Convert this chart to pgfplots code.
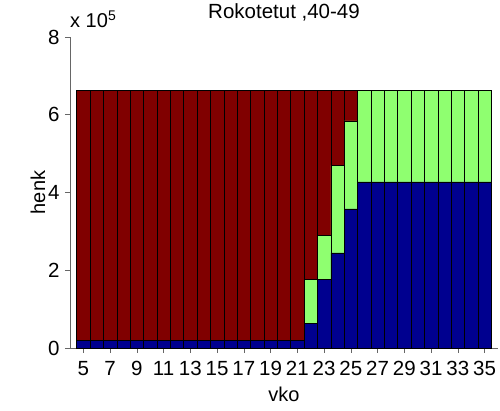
\documentclass[border=0pt]{standalone}
\usepackage{pgfplots}
\pgfplotsset{compat=1.18}
\usepackage{fontspec}
\setmainfont{Liberation Sans}

\definecolor{jetblue}{rgb}{0,0,0.5625}
\definecolor{jetgreen}{rgb}{0.5625,1,0.4375}
\definecolor{jetred}{rgb}{0.5,0,0}

% values in units of 10^5
\pgfplotstableread{
vko  blue  green  red
5    0.20  0.00   6.42
6    0.20  0.00   6.42
7    0.20  0.00   6.42
8    0.20  0.00   6.42
9    0.20  0.00   6.42
10   0.20  0.00   6.42
11   0.20  0.00   6.42
12   0.20  0.00   6.42
13   0.20  0.00   6.42
14   0.20  0.00   6.42
15   0.20  0.00   6.42
16   0.20  0.00   6.42
17   0.20  0.00   6.42
18   0.20  0.00   6.42
19   0.20  0.00   6.42
20   0.20  0.00   6.42
21   0.20  0.00   6.42
22   0.63  1.13   4.86
23   1.77  1.13   3.72
24   2.45  2.25   1.92
25   3.58  2.26   0.78
26   4.27  2.35   0.00
27   4.27  2.35   0.00
28   4.27  2.35   0.00
29   4.27  2.35   0.00
30   4.27  2.35   0.00
31   4.27  2.35   0.00
32   4.27  2.35   0.00
33   4.27  2.35   0.00
34   4.27  2.35   0.00
35   4.27  2.35   0.00
}\rokotetut

\begin{document}
\begin{tikzpicture}
\begin{axis}[
    scale only axis,
    width=428pt, height=311pt,
    at={(0,0)}, anchor=south west,
    clip=false,
    ybar stacked,
    bar width=1,
    bar shift=0pt,
    xmin=4, xmax=36,
    ymin=0, ymax=8,
    xtick={5,7,...,35},
    ytick={0,2,4,6,8},
    axis x line*=bottom,
    axis y line*=left,
    axis line style={black!60, line width=0.6pt},
    tick style={black!60, line width=0.6pt},
    tick align=outside,
    major tick length=5pt,
    ticklabel style={font=\fontsize{20.5}{24}\selectfont},
    /pgf/number format/assume math mode=true,
    xticklabel style={yshift=-5pt},
    yticklabel style={xshift=-2pt},
    title={Rokotetut ,40-49},
    title style={font=\fontsize{20.5}{24}\selectfont, yshift=6pt},
    xlabel={vko},
    ylabel={henk},
    label style={font=\fontsize{20}{24}\selectfont},
    xlabel style={yshift=-4pt},
    ylabel style={yshift=-4pt},
    every axis plot/.append style={draw=black, line width=0.5pt},
]
\addplot[fill=jetblue] table[x=vko, y=blue] {\rokotetut};
\addplot[fill=jetgreen] table[x=vko, y=green] {\rokotetut};
\addplot[fill=jetred] table[x=vko, y=red] {\rokotetut};
\node[anchor=south west, inner sep=0pt, font=\fontsize{20}{24}\selectfont]
    at (rel axis cs:0,1) [yshift=9pt] {x 10\textsuperscript{5}};
\end{axis}
\path[use as bounding box] (-70pt,-63pt) rectangle (430pt,348pt);
\end{tikzpicture}
\end{document}
